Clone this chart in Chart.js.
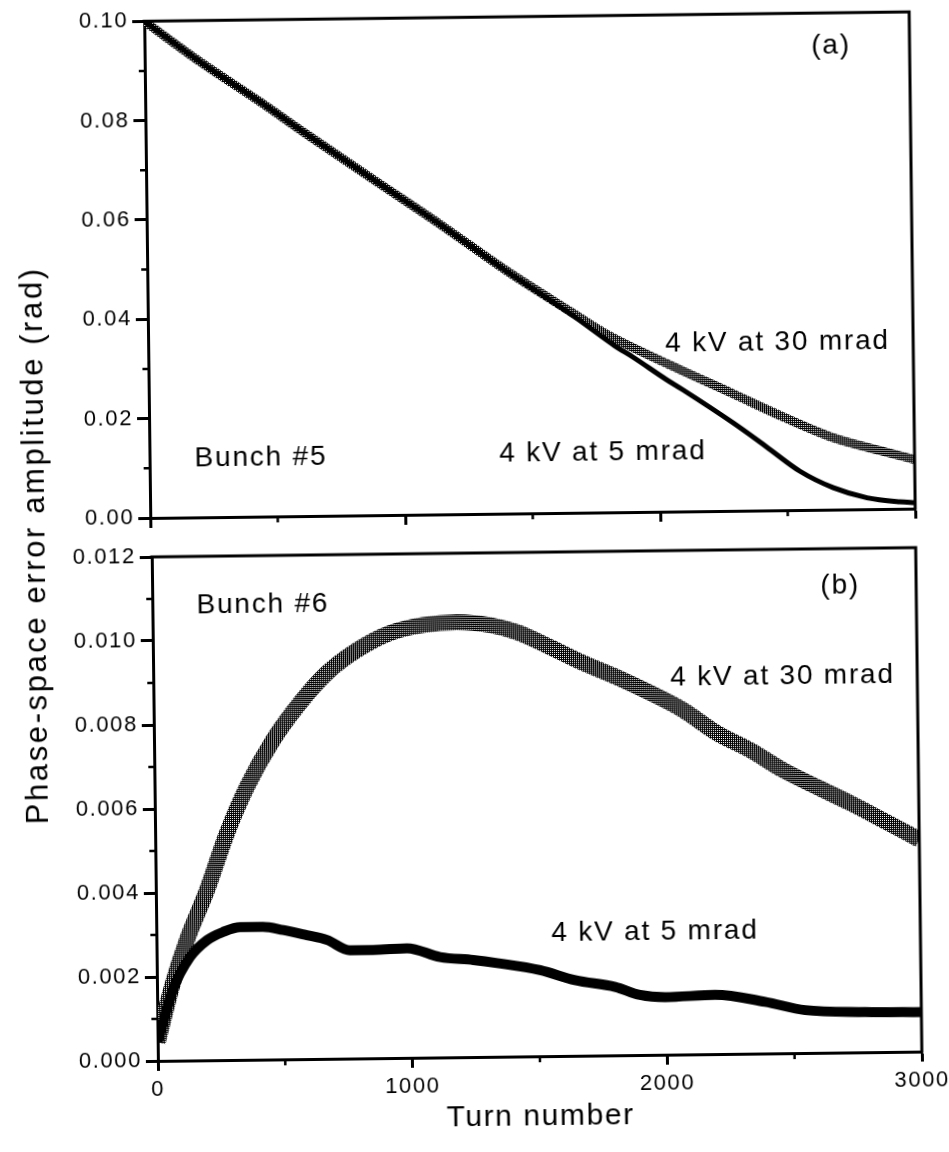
<!DOCTYPE html>
<html><head><meta charset="utf-8">
<script src="https://cdn.jsdelivr.net/npm/chart.js@4.4.1/dist/chart.umd.min.js"></script>
<style>
html,body{margin:0;padding:0;background:#fff;width:949px;height:1152px;overflow:hidden}
#wrap{position:absolute;left:0;top:0;width:949px;height:1152px;transform:rotate(-0.7deg);transform-origin:474.5px 576px}
#boxA{position:absolute;left:0;top:0;width:949px;height:534px}
#boxB{position:absolute;left:0;top:534px;width:949px;height:618px}
#ytitle{position:absolute;left:35px;top:540px;transform:translate(-50%,-50%) rotate(-90deg);white-space:nowrap;font:31px "Liberation Sans",Arial,sans-serif;letter-spacing:2.6px;color:#000}
</style></head><body>
<div id="wrap">
<div id="boxA"><canvas id="chartA" width="949" height="534"></canvas></div>
<div id="boxB"><canvas id="chartB" width="949" height="618"></canvas></div>
<div id="ytitle">Phase-space error amplitude (rad)</div>
</div>
<script>
// ---------------- data ----------------
const seriesNames = ['4 kV at 30 mrad', '4 kV at 5 mrad'];
const xTickLabels = ['0', '1000', '2000', '3000'];
const yTickLabelsA = ['0.00', '0.02', '0.04', '0.06', '0.08', '0.10'];
const yTickLabelsB = ['0.000', '0.002', '0.004', '0.006', '0.008', '0.010', '0.012'];
const xTitle = 'Turn number';

// Panel (a) Bunch #5
const turns30a = [0, 217, 450, 633, 890, 1150, 1411, 1667, 1800, 2034, 2290, 2486, 2681, 2877, 3000];
const amp30a   = [0.1000, 0.0917, 0.0835, 0.0768, 0.0676, 0.0584, 0.0488, 0.0402, 0.0358, 0.0298, 0.0236, 0.0188, 0.0145, 0.0116, 0.0099];
const turns5a  = [0, 217, 450, 633, 890, 1150, 1411, 1560, 1680, 1830, 1900, 2030, 2094, 2290, 2420, 2550, 2680, 2812, 2941, 3000];
const amp5a    = [0.1000, 0.0917, 0.0835, 0.0768, 0.0676, 0.0584, 0.0487, 0.0435, 0.0392, 0.0335, 0.0312, 0.0266, 0.0245, 0.0177, 0.0128, 0.0078, 0.0044, 0.0023, 0.0014, 0.0012];

// Panel (b) Bunch #6
const turns30b = [0, 63, 120, 201, 282, 363, 467, 575, 683, 801, 932, 1062, 1195, 1325, 1431, 1559, 1689, 1821, 1950, 2079, 2211, 2340, 2469, 2601, 2730, 2859, 3000];
const amp30b   = [0.00045, 0.00185, 0.00287, 0.00405, 0.0054, 0.0065, 0.0076, 0.00848, 0.00919, 0.00972, 0.01012, 0.0103, 0.01036, 0.01028, 0.0101, 0.00974, 0.00935, 0.0090, 0.00862, 0.0082, 0.00764, 0.00723, 0.00674, 0.00633, 0.00594, 0.00552, 0.00505];
const turns5b  = [0, 63, 131, 199, 262, 329, 419, 498, 591, 670, 759, 849, 984, 1113, 1243, 1337, 1505, 1642, 1799, 1896, 1995, 2191, 2387, 2544, 2779, 3000];
const amp5b    = [0.00045, 0.0017, 0.00246, 0.00286, 0.00305, 0.00316, 0.00316, 0.00308, 0.00295, 0.00283, 0.00258, 0.00258, 0.00261, 0.00239, 0.00231, 0.00223, 0.00205, 0.0018, 0.00163, 0.00143, 0.00137, 0.00141, 0.00123, 0.00102, 0.00096, 0.00094];

// ---------------- helpers ----------------
const FONT = '"Liberation Sans", Arial, sans-serif';
function pts(t, v) { return t.map((x, i) => ({ x: x, y: v[i] })); }
function hatch() {
  const c = document.createElement('canvas'); c.width = 4; c.height = 4;
  const g = c.getContext('2d');
  g.fillStyle = '#000'; g.fillRect(0, 0, 4, 4);
  g.fillStyle = '#fff';
  g.fillRect(1, 1, 1, 1); g.fillRect(3, 3, 1, 1); g.fillRect(1, 3, 1, 1); g.fillRect(3, 1, 1, 1);
  return g.createPattern(c, 'repeat');
}

const framePlugin = {
  id: 'frame',
  beforeDraw(chart) { chart.ctx.letterSpacing = '1.6px'; },
  afterDraw(chart, args, opts) {
    const { ctx, chartArea: a, scales: { x, y } } = chart;
    ctx.save();
    ctx.strokeStyle = '#000'; ctx.lineWidth = 3; ctx.lineCap = 'square';
    ctx.beginPath();
    ctx.moveTo(a.left, a.top); ctx.lineTo(a.right, a.top); ctx.lineTo(a.right, a.bottom);
    ctx.stroke();
    ctx.lineWidth = 2.5; ctx.lineCap = 'butt';
    ctx.beginPath();
    (opts.minorY || []).forEach(v => { const p = y.getPixelForValue(v); ctx.moveTo(a.left, p); ctx.lineTo(a.left - 6, p); });
    (opts.minorX || []).forEach(v => { const p = x.getPixelForValue(v); ctx.moveTo(p, a.bottom); ctx.lineTo(p, a.bottom + 6); });
    ctx.stroke();
    ctx.fillStyle = '#000';
    ctx.font = '28px ' + FONT;
    ctx.letterSpacing = '1.8px';
    ctx.textAlign = 'center'; ctx.textBaseline = 'middle';
    (opts.notes || []).forEach(n => ctx.fillText(n.text, x.getPixelForValue(n.x), y.getPixelForValue(n.y)));
    ctx.restore();
  }
};

function axisX(showLabels, h, title) {
  return {
    type: 'linear', min: 0, max: 3000,
    afterFit(s) { s.height = h; },
    ticks: { stepSize: 1000, display: true, color: '#000', padding: 6, maxRotation: 0,
      font: { family: FONT, size: 22 },
      callback: (v, i) => showLabels ? xTickLabels[i] : '' },
    grid: { display: true, drawOnChartArea: false, drawTicks: true, tickLength: 10, tickWidth: 3, tickColor: '#000' },
    border: { display: true, width: 3, color: '#000' },
    title: title ? { display: true, text: title, color: '#000', font: { family: FONT, size: 30 }, padding: { top: 0, bottom: 16 } } : { display: false }
  };
}
function axisY(max, step, labels, w) {
  return {
    type: 'linear', min: 0, max: max,
    afterFit(s) { s.width = w; },
    ticks: { stepSize: step, color: '#000', padding: 4,
      font: { family: FONT, size: 22 },
      callback: (v, i) => labels[i] },
    grid: { display: true, drawOnChartArea: false, drawTicks: true, tickLength: 12, tickWidth: 3, tickColor: '#000' },
    border: { display: true, width: 3, color: '#000' }
  };
}
const common = {
  responsive: false, animation: false, devicePixelRatio: 1,
  plugins: { legend: { display: false }, tooltip: { enabled: false } },
  elements: { point: { radius: 0 }, line: { cubicInterpolationMode: 'monotone', borderJoinStyle: 'round', borderCapStyle: 'butt' } }
};

const H = hatch();

new Chart(document.getElementById('chartA'), {
  type: 'line',
  data: { datasets: [
    { label: seriesNames[1], data: pts(turns5a, amp5a), borderColor: '#000', borderWidth: 5, fill: false },
    { label: seriesNames[0], data: pts(turns30a, amp30a), borderColor: H, borderWidth: 9, fill: false }
  ] },
  options: Object.assign({}, common, {
    layout: { padding: { left: 0, top: 15, right: 33, bottom: 0 } },
    scales: { x: axisX(false, 20, null), y: axisY(0.1, 0.02, yTickLabelsA, 151) },
    plugins: Object.assign({}, common.plugins, { frame: {
      minorY: [0.01, 0.03, 0.05, 0.07, 0.09], minorX: [500, 1500, 2500],
      notes: [
        { text: '(a)', x: 2692, y: 0.0933 },
        { text: 'Bunch #5', x: 437, y: 0.0119 },
        { text: seriesNames[0], x: 2468, y: 0.0337 },
        { text: seriesNames[1], x: 1778, y: 0.0121 }
      ] } })
  }),
  plugins: [framePlugin]
});

new Chart(document.getElementById('chartB'), {
  type: 'line',
  data: { datasets: [
    { label: seriesNames[1], data: pts(turns5b, amp5b), borderColor: '#000', borderWidth: 10, fill: false },
    { label: seriesNames[0], data: pts(turns30b, amp30b), borderColor: H, borderWidth: 16, fill: false }
  ] },
  options: Object.assign({}, common, {
    layout: { padding: { left: 0, top: 19, right: 33, bottom: 0 } },
    scales: { x: axisX(true, 95, xTitle), y: axisY(0.012, 0.002, yTickLabelsB, 152) },
    plugins: Object.assign({}, common.plugins, { frame: {
      minorY: [0.001, 0.003, 0.005, 0.007, 0.009, 0.011], minorX: [500, 1500, 2500],
      notes: [
        { text: '(b)', x: 2702, y: 0.01112 },
        { text: 'Bunch #6', x: 434, y: 0.01083 },
        { text: seriesNames[0], x: 2471, y: 0.00896 },
        { text: seriesNames[1], x: 1958, y: 0.00292 }
      ] } })
  }),
  plugins: [framePlugin]
});
</script>
</body></html>
